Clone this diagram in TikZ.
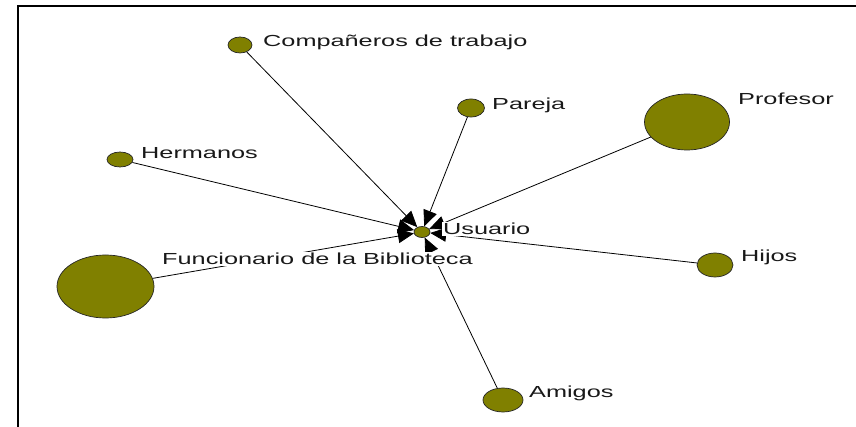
\documentclass[tikz,border=0pt]{standalone}
\usepackage{fontspec}
\newfontfamily\labfont[FakeStretch=1.58]{Liberation Sans}
\usetikzlibrary{shapes.geometric,arrows.meta}
\definecolor{olivenode}{RGB}{128,128,0}
\begin{document}
\begin{tikzpicture}[x=1pt,y=-1pt,
  actor/.style={ellipse, fill=olivenode, draw=black!85, line width=0.7pt, inner sep=0pt},
  lab/.style={anchor=base west, fill=white, inner sep=1pt, font=\labfont\fontsize{16}{16}\selectfont, text=black!90},
  tie/.style={draw=black, line width=0.8pt, -{Triangle[length=16pt,width=14pt]}}]
\useasboundingbox (0,0) rectangle (856,427);
\fill[white] (0,0) rectangle (856,427);
\draw[line width=2pt] (18.3,427) -- (18.3,6) -- (856,6);
% actors
\node[actor, minimum width=16pt, minimum height=11pt] (u) at (422,232) {};
\node[actor, minimum width=24pt, minimum height=16pt] (comp) at (240,45) {};
\node[actor, minimum width=27pt, minimum height=18pt] (par) at (471,108) {};
\node[actor, minimum width=85pt, minimum height=56pt] (prof) at (687,122) {};
\node[actor, minimum width=26pt, minimum height=15pt] (herm) at (120,159.5) {};
\node[actor, minimum width=97pt, minimum height=63pt] (func) at (105.5,286.5) {};
\node[actor, minimum width=36pt, minimum height=24pt] (hijos) at (715,265) {};
\node[actor, minimum width=40pt, minimum height=24pt] (ami) at (503,400) {};
% ties
\foreach \s in {comp,par,prof,herm,func,hijos,ami}
  \draw[tie] (\s) -- (u);
% labels
\node[lab] (lcomp) at (262,47) {Compañeros de trabajo};
\node[lab] (lpar) at (491,110) {Pareja};
\node[lab] (lprof) at (737,105) {Profesor};
\node[lab] (lherm) at (140,159) {Hermanos};
\node[lab] (lu) at (442,235) {Usuario};
\node[lab] (lfunc) at (161,265) {Funcionario de la Biblioteca};
\node[lab] (lhijos) at (740,262) {Hijos};
\node[lab] (lami) at (528,397) {Amigos};
\end{tikzpicture}
\end{document}
